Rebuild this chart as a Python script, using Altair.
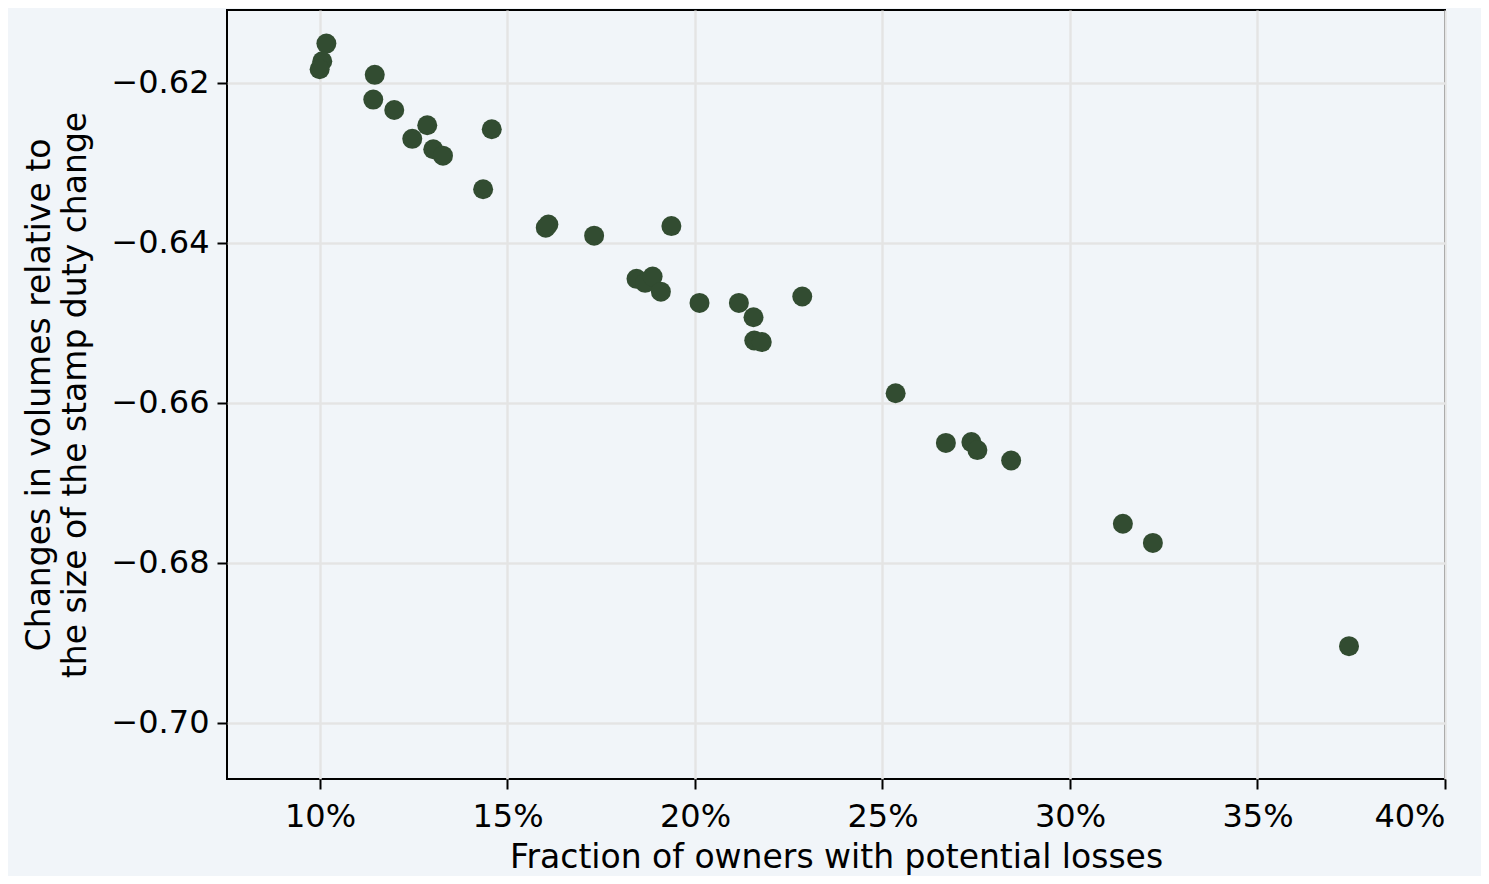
import altair as alt
import pandas as pd

frac_losses = [0.1017, 0.1006, 0.0999, 0.1146, 0.1142, 0.1198, 0.1286, 0.1246, 0.1302, 0.1328,
               0.1458, 0.1435, 0.1609, 0.1602, 0.1731, 0.1937, 0.1844, 0.1867, 0.1887, 0.1909,
               0.2012, 0.2117, 0.2156, 0.2158, 0.2178, 0.2286, 0.2535, 0.2669, 0.2737, 0.2753,
               0.2843, 0.3141, 0.3221, 0.3744]
vol_change = [-0.6151, -0.6173, -0.6183, -0.6190, -0.6221, -0.6234, -0.6253, -0.6270, -0.6283, -0.6291,
              -0.6258, -0.6333, -0.6377, -0.6381, -0.6391, -0.6379, -0.6445, -0.6450, -0.6442, -0.6461,
              -0.6475, -0.6475, -0.6493, -0.6522, -0.6524, -0.6467, -0.6588, -0.6650, -0.6649, -0.6659,
              -0.6672, -0.6751, -0.6775, -0.6904]
x_ticks = [0.10, 0.15, 0.20, 0.25, 0.30, 0.35, 0.40]
y_ticks = [-0.62, -0.64, -0.66, -0.68, -0.70]

df = pd.DataFrame({"x": frac_losses, "y": vol_change})

FONT = "DejaVu Sans"
BG = "#f1f5f9"

chart = alt.Chart(df).mark_circle(size=400, opacity=1, color="#324c31").encode(
    x=alt.X("x:Q",
            scale=alt.Scale(domain=[0.0752, 0.40], nice=False, zero=False),
            axis=alt.Axis(values=x_ticks, format=".0%", title="Fraction of owners with potential losses",
                          labelPadding=12, titlePadding=9)),
    y=alt.Y("y:Q",
            scale=alt.Scale(domain=[-0.707, -0.6109], nice=False, zero=False),
            axis=alt.Axis(values=y_ticks, format=".2f",
                          title=["Changes in volumes relative to", "the size of the stamp duty change"],
                          labelPadding=8, titlePadding=18)),
).properties(
    width=1218, height=769,
    autosize=alt.AutoSizeParams(type="none"),
    padding={"left": 219, "top": 2, "right": 36, "bottom": 97},
    background=BG,
).configure_view(
    fill=BG, stroke="black", strokeWidth=2
).configure_axis(
    labelFont=FONT, labelFontSize=32, labelColor="black",
    titleFont=FONT, titleFontSize=33, titleFontWeight="normal", titleColor="black",
    grid=True, gridColor="#e4e4e4", gridWidth=2.5,
    domain=False, ticks=True, tickColor="black", tickWidth=2, tickSize=10,
    titleLineHeight=36,
)

chart.save("out.html", embed_options={"renderer": "svg", "actions": False})
